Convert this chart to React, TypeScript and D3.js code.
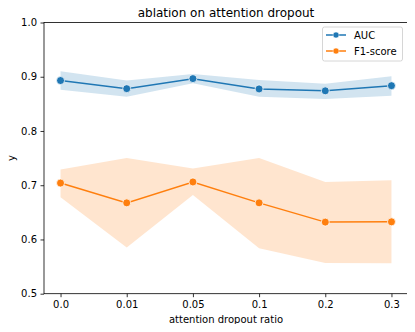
import React from 'react';
import * as d3 from 'd3';

const ratios = ['0.0', '0.01', '0.05', '0.1', '0.2', '0.3'];
const aucMean = [0.893, 0.878, 0.8965, 0.8775, 0.874, 0.8835];
const aucLow = [0.876, 0.863, 0.888, 0.863, 0.859, 0.865];
const aucHigh = [0.910, 0.893, 0.905, 0.894, 0.887, 0.901];
const f1Mean = [0.704, 0.6675, 0.706, 0.6675, 0.632, 0.6325];
const f1Low = [0.678, 0.585, 0.682, 0.584, 0.5565, 0.556];
const f1High = [0.729, 0.750, 0.731, 0.750, 0.706, 0.709];
const yTicks = [0.5, 0.6, 0.7, 0.8, 0.9, 1.0];

const series = [
  { name: 'AUC', mean: aucMean, low: aucLow, high: aucHigh, color: '#1f77b4', fill: '#1f77b4' },
  { name: 'F1-score', mean: f1Mean, low: f1Low, high: f1High, color: '#ff7f0e', fill: '#ff7f0e' },
];

const App = () => {
  const ref = React.useRef<SVGSVGElement>(null);

  React.useEffect(() => {
    const svg = d3.select(ref.current);
    svg.selectAll('*').remove();

    const width = 415;
    const height = 332;
    const margin = { top: 22.5, right: 7, bottom: 38.3, left: 44 };
    const font = 'DejaVu Sans, sans-serif';

    const idx = d3.range(ratios.length);
    const x = d3.scaleLinear()
      .domain([-0.25, ratios.length - 0.75])
      .range([margin.left, width - margin.right]);
    const y = d3.scaleLinear()
      .domain([0.5, 1.0])
      .range([height - margin.bottom, margin.top]);

    svg.append('rect').attr('width', width).attr('height', height).attr('fill', '#fff');

    series.forEach(s => {
      const area = d3.area<number>()
        .x(i => x(i))
        .y0(i => y(s.low[i]))
        .y1(i => y(s.high[i]));
      svg.append('path')
        .attr('d', area(idx))
        .attr('fill', s.fill)
        .attr('fill-opacity', 0.2);
    });

    series.forEach(s => {
      const line = d3.line<number>().x(i => x(i)).y(i => y(s.mean[i]));
      svg.append('path')
        .attr('d', line(idx))
        .attr('fill', 'none')
        .attr('stroke', s.color)
        .attr('stroke-width', 1.5);
      svg.selectAll(null)
        .data(idx)
        .enter().append('circle')
        .attr('cx', i => x(i))
        .attr('cy', i => y(s.mean[i]))
        .attr('r', 4)
        .attr('fill', s.color)
        .attr('stroke', '#fff')
        .attr('stroke-width', 0.75);
    });

    // axes frame
    svg.append('rect')
      .attr('x', margin.left)
      .attr('y', margin.top)
      .attr('width', width - margin.right - margin.left)
      .attr('height', height - margin.bottom - margin.top)
      .attr('fill', 'none')
      .attr('stroke', '#000')
      .attr('stroke-width', 0.8);

    const xAxis = svg.append('g')
      .attr('transform', `translate(0,${height - margin.bottom})`)
      .call(d3.axisBottom(x).tickValues(idx).tickFormat(i => ratios[i as number]).tickSize(3.5).tickPadding(3.5));
    const yAxis = svg.append('g')
      .attr('transform', `translate(${margin.left},0)`)
      .call(d3.axisLeft(y).tickValues(yTicks).tickFormat(d3.format('.1f')).tickSize(3.5).tickPadding(3.5));
    [xAxis, yAxis].forEach(g => {
      g.select('.domain').remove();
      g.selectAll('line').attr('stroke', '#000').attr('stroke-width', 0.8);
      g.selectAll('text').attr('font-family', font).attr('font-size', 10).attr('fill', '#000');
    });

    svg.append('text')
      .attr('x', (margin.left + width - margin.right) / 2)
      .attr('y', 17)
      .attr('text-anchor', 'middle')
      .attr('font-family', font)
      .attr('font-size', 12)
      .text('ablation on attention dropout');

    svg.append('text')
      .attr('x', (margin.left + width - margin.right) / 2)
      .attr('y', 323)
      .attr('text-anchor', 'middle')
      .attr('font-family', font)
      .attr('font-size', 10)
      .text('attention dropout ratio');

    svg.append('text')
      .attr('transform', `translate(15,${(margin.top + height - margin.bottom) / 2}) rotate(-90)`)
      .attr('text-anchor', 'middle')
      .attr('font-family', font)
      .attr('font-size', 10)
      .text('y');

    // legend
    const lg = svg.append('g');
    lg.append('rect')
      .attr('x', 322.5).attr('y', 27)
      .attr('width', 80).attr('height', 34)
      .attr('rx', 2)
      .attr('fill', '#fff').attr('fill-opacity', 0.8)
      .attr('stroke', '#ccc').attr('stroke-width', 0.8);
    series.forEach((s, k) => {
      const cy = 35 + k * 16;
      lg.append('line')
        .attr('x1', 326).attr('x2', 346).attr('y1', cy).attr('y2', cy)
        .attr('stroke', s.color).attr('stroke-width', 1.5);
      lg.append('circle')
        .attr('cx', 336).attr('cy', cy).attr('r', 3)
        .attr('fill', s.color).attr('stroke', '#fff').attr('stroke-width', 0.5);
      lg.append('text')
        .attr('x', 354).attr('y', cy + 3.5)
        .attr('font-family', font).attr('font-size', 10)
        .text(s.name);
    });
  }, []);

  return <svg ref={ref} width="415" height="332" style={{ display: 'block', margin: '-8px' }}></svg>;
};

export default App;
